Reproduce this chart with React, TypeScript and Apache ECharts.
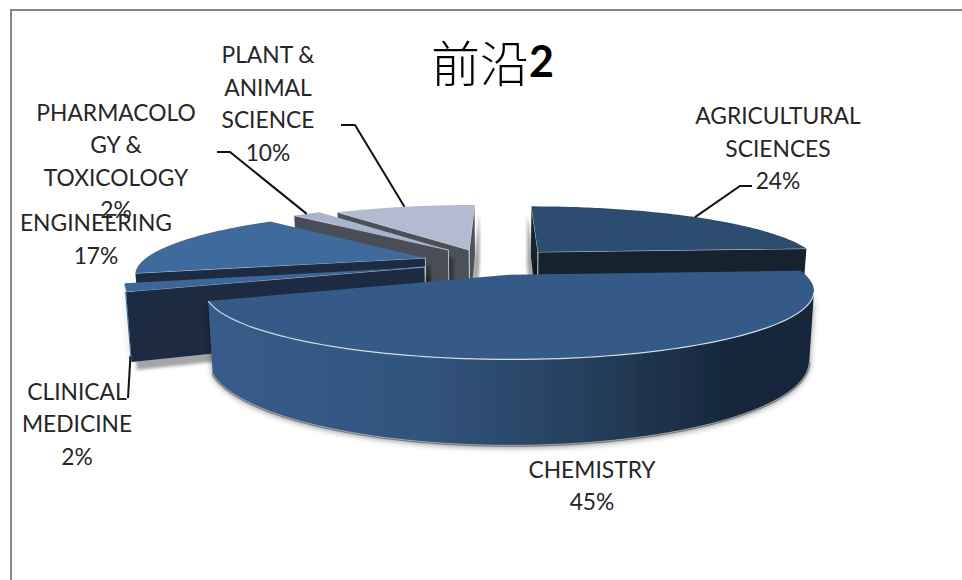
import React, { useEffect, useRef } from "react";
import * as echarts from "echarts";

// Subject shares of the "前沿2" research front
const categories = [
  "AGRICULTURAL\nSCIENCES",
  "CHEMISTRY",
  "CLINICAL\nMEDICINE",
  "ENGINEERING",
  "PHARMACOLO\nGY &\nTOXICOLOGY",
  "PLANT &\nANIMAL\nSCIENCE",
];
const shares = [24, 45, 2, 17, 2, 10];

// Slices are painted back to front so nearer ones cover farther ones
const paintOrder = [5, 4, 3, 2, 0, 1];

// Per-slice explosion on the pie's ground plane (sideways, towards the viewer)
const explosion = [
  [38, 0],
  [8, 104],
  [-71, 70],
  [-73, 29],
  [-52, -10],
  [-31, -10],
];

const topFill = ["#2c4d70", "#365a87", "#3d6698", "#3e6a9c", "#a9b3cd", "#b3bbd0"];
const cutFill = ["#14202f", "#14202f", "#1a2c43", "#1a2c43", "#484e59", "#4c5159"];
const rimFill: any[] = [
  "#14202f",
  {
    type: "linear", x: 0, y: 0, x2: 1, y2: 0,
    colorStops: [
      { offset: 0, color: "#385c8a" },
      { offset: 0.35, color: "#32547e" },
      { offset: 0.6, color: "#27415f" },
      { offset: 0.88, color: "#15253a" },
      { offset: 1, color: "#15253a" },
    ],
  },
  "#3d6698",
  "#1a2c43",
  "#484e59",
  "#484e59",
];

// Where each label block is centred, and the elbow of its leader line
const labelAnchor = [
  [778, 147.5],
  [592, 485],
  [77, 423],
  [96, 238.5],
  [116, 160.5],
  [268, 103],
];
const leaderElbow: (number[][] | null)[] = [
  [[740, 186], [752, 186]],
  null,
  [[128, 398]],
  null,
  [[230, 152], [217, 152]],
  [[355, 125], [341, 125]],
];

// Camera used to project the tilted pie on to the page
const VANISH_X = 500;
const VANISH_Y = -11;
const EYE_DIST = 1300;
const HEIGHT = 263;
const THICK = 61;
const RADIUS = 273;

const project = (x: number, z: number, low: boolean) => {
  const w = EYE_DIST / (EYE_DIST - z);
  const sx = VANISH_X + x * w * (low ? 0.985 : 1);
  const sy = VANISH_Y + (HEIGHT + (low ? THICK : 0)) * w;
  return [sx, sy];
};

const total = shares.reduce((a, b) => a + b, 0);
const startAngle = (i: number) =>
  (shares.slice(0, i).reduce((a, b) => a + b, 0) / total) * Math.PI * 2;

const rimPoint = (i: number, a: number, low: boolean) =>
  project(
    explosion[i][0] + RADIUS * Math.sin(a),
    explosion[i][1] - RADIUS * Math.cos(a),
    low,
  );

const shoelace = (p: number[][]) =>
  p.reduce((s, q, k) => {
    const r = p[(k + 1) % p.length];
    return s + q[0] * r[1] - r[0] * q[1];
  }, 0);

const poly = (points: number[][], style: any) => ({
  type: "polygon",
  shape: { points },
  style,
});
const line = (points: number[][], stroke: string, lineWidth: number) => ({
  type: "polyline",
  shape: { points },
  style: { fill: "none", stroke, lineWidth },
});

const renderSlice = (_: any, api: any) => {
  const i = api.value(0) as number;
  const a0 = startAngle(i);
  const a1 = a0 + (api.value(1) / total) * Math.PI * 2;
  const steps = 90;
  const angleAt = (k: number) => a0 + ((a1 - a0) * k) / steps;
  const apexTop = project(explosion[i][0], explosion[i][1], false);
  const apexLow = project(explosion[i][0], explosion[i][1], true);
  const children: any[] = [];

  // Outer wall: only the run of rim that faces the viewer
  const visTop: number[][] = [];
  const visLow: number[][] = [];
  for (let k = 0; k < steps; k++) {
    const q = [
      rimPoint(i, angleAt(k), false),
      rimPoint(i, angleAt(k + 1), false),
      rimPoint(i, angleAt(k + 1), true),
      rimPoint(i, angleAt(k), true),
    ];
    if (shoelace(q) < 0) {
      if (!visTop.length) {
        visTop.push(q[0]);
        visLow.push(q[3]);
      }
      visTop.push(q[1]);
      visLow.push(q[2]);
    }
  }
  if (visTop.length) {
    children.push(
      line(visLow, "#a8a8a8", 3),
      poly([...visTop, ...visLow.slice().reverse()], {
        fill: rimFill[i],
        shadowBlur: 6,
        shadowColor: "rgba(0,0,0,0.45)",
        shadowOffsetY: 2,
      }),
    );
  }

  // Cut faces running from the apex to the rim, with a soft shadow at their foot
  const faceAt = (a: number, wantSign: number) => {
    const pt = rimPoint(i, a, false);
    const pb = rimPoint(i, a, true);
    const q = [apexTop, pt, pb, apexLow];
    if (shoelace(q) * wantSign > 0) {
      children.push(
        poly(q, {
          fill: cutFill[i],
          shadowBlur: 3,
          shadowColor: "rgba(0,0,0,0.35)",
          shadowOffsetX: explosion[i][0] < 0 ? 5 : -4,
          shadowOffsetY: 8,
        }),
        line([apexLow, apexTop, pt], "rgba(225,230,238,0.75)", 1),
      );
    }
  };
  faceAt(a0, -1);
  faceAt(a1, 1);

  // Top face
  const rim: number[][] = [];
  for (let k = 0; k <= steps; k++) rim.push(rimPoint(i, angleAt(k), false));
  children.push(poly([apexTop, ...rim], { fill: topFill[i] }));
  if (visTop.length > 2) {
    children.push(line(visTop, "rgba(235,238,244,0.85)", 1.2));
    children.push(line(visLow, "rgba(190,190,190,0.7)", 1));
  }
  return { type: "group", children };
};

const renderLabel = (_: any, api: any) => {
  const i = api.value(0) as number;
  const children: any[] = [];
  const elbow = leaderElbow[i];
  if (elbow) {
    const mid = startAngle(i) + ((shares[i] / total) * Math.PI * 2) / 2;
    const isLowAnchor = labelAnchor[i][1] > 300;
    children.push(
      line([rimPoint(i, mid, isLowAnchor), ...elbow], "#111111", 2),
    );
  }
  children.push({
    type: "text",
    style: {
      text: `${categories[i]}\n${shares[i]}%`,
      x: labelAnchor[i][0],
      y: labelAnchor[i][1],
      align: "center",
      verticalAlign: "middle",
      fontFamily: "Lato",
      fontSize: 22.8,
      lineHeight: 32.5,
      fill: "#262626",
    },
  });
  return { type: "group", children };
};

export default function App() {
  const ref = useRef<HTMLDivElement>(null);
  useEffect(() => {
    const chart = echarts.init(ref.current!, undefined, { renderer: "svg" });
    const rows = paintOrder.map((i) => [i, shares[i]]);
    chart.setOption({
      animation: false,
      title: {
        text: "{cjk|前沿}{num|2}",
        left: 426,
        top: 31,
        textStyle: {
          rich: {
            cjk: { fontFamily: "Noto Sans CJK SC", fontSize: 49, fontWeight: 300, color: "#000" },
            num: { fontFamily: "Lato", fontSize: 43, fontWeight: "bold", color: "#000" },
          },
        },
      },
      graphic: [
        {
          type: "rect",
          shape: { x: 11, y: 10, width: 1000, height: 640 },
          style: { fill: "none", stroke: "#858585", lineWidth: 2 },
          silent: true,
        },
      ],
      series: [
        {
          type: "custom",
          coordinateSystem: "none",
          renderItem: renderSlice,
          data: rows,
          silent: true,
          clip: false,
        },
        {
          type: "custom",
          coordinateSystem: "none",
          renderItem: renderLabel,
          data: rows,
          silent: true,
          clip: false,
        },
      ],
    });
    return () => chart.dispose();
  }, []);
  return (
    <div
      ref={ref}
      style={{ position: "absolute", left: 0, top: 0, width: 962, height: 580 }}
    />
  );
}
